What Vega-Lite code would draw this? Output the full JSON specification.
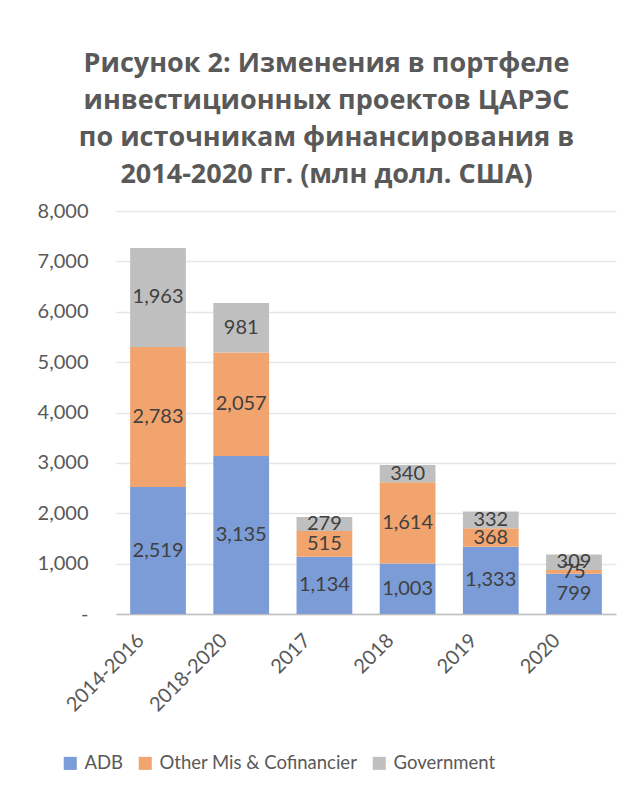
{
  "$schema": "https://vega.github.io/schema/vega-lite/v6.json",
  "width": 500,
  "height": 403,
  "padding": {"left": 37, "top": 50, "right": 18, "bottom": 5},
  "background": "white",
  "title": {
    "text": ["Рисунок 2: Изменения в портфеле", "инвестиционных проектов ЦАРЭС", "по источникам финансирования в", "2014-2020 гг. (млн долл. США)"],
    "font": "Open Sans",
    "fontSize": 27,
    "fontWeight": "bold",
    "color": "#595959",
    "lineHeight": 37,
    "anchor": "middle",
    "frame": "bounds",
    "offset": 12
  },
  "data": {
    "values": [
      {"period": "2014-2016", "source": "ADB", "ord": 1, "value": 2519},
      {"period": "2014-2016", "source": "Other Mis & Cofinancier", "ord": 2, "value": 2783},
      {"period": "2014-2016", "source": "Government", "ord": 3, "value": 1963},
      {"period": "2018-2020", "source": "ADB", "ord": 1, "value": 3135},
      {"period": "2018-2020", "source": "Other Mis & Cofinancier", "ord": 2, "value": 2057},
      {"period": "2018-2020", "source": "Government", "ord": 3, "value": 981},
      {"period": "2017", "source": "ADB", "ord": 1, "value": 1134},
      {"period": "2017", "source": "Other Mis & Cofinancier", "ord": 2, "value": 515},
      {"period": "2017", "source": "Government", "ord": 3, "value": 279},
      {"period": "2018", "source": "ADB", "ord": 1, "value": 1003},
      {"period": "2018", "source": "Other Mis & Cofinancier", "ord": 2, "value": 1614},
      {"period": "2018", "source": "Government", "ord": 3, "value": 340},
      {"period": "2019", "source": "ADB", "ord": 1, "value": 1333},
      {"period": "2019", "source": "Other Mis & Cofinancier", "ord": 2, "value": 368},
      {"period": "2019", "source": "Government", "ord": 3, "value": 332},
      {"period": "2020", "source": "ADB", "ord": 1, "value": 799},
      {"period": "2020", "source": "Other Mis & Cofinancier", "ord": 2, "value": 75},
      {"period": "2020", "source": "Government", "ord": 3, "value": 309}
    ]
  },
  "encoding": {
    "x": {
      "field": "period",
      "type": "nominal",
      "sort": ["2014-2016", "2018-2020", "2017", "2018", "2019", "2020"],
      "scale": {"paddingInner": 0.33, "paddingOuter": 0.17},
      "axis": {
        "title": null,
        "labelAngle": -45,
        "labelFont": "Lato",
        "labelFontSize": 20,
        "labelColor": "#595959",
        "ticks": false,
        "labelPadding": 16,
        "labelOffset": -24,
        "domainColor": "#BFBFBF",
        "domainWidth": 1.5
      }
    },
    "y": {
      "field": "value",
      "type": "quantitative",
      "aggregate": "sum",
      "stack": "zero",
      "scale": {"domain": [0, 8000]},
      "axis": {
        "title": null,
        "values": [0, 1000, 2000, 3000, 4000, 5000, 6000, 7000, 8000],
        "labelExpr": "datum.value === 0 ? '-' : format(datum.value, ',')",
        "labelFont": "Lato",
        "labelFontSize": 20,
        "labelColor": "#595959",
        "ticks": false,
        "labelPadding": 28,
        "domain": false,
        "grid": true,
        "gridColor": "#E6E6E6",
        "gridWidth": 1.5
      }
    },
    "order": {"field": "ord", "type": "quantitative"}
  },
  "layer": [
    {
      "mark": {"type": "bar"},
      "encoding": {
        "color": {
          "field": "source",
          "type": "nominal",
          "sort": ["ADB", "Other Mis & Cofinancier", "Government"],
          "scale": {
            "domain": ["ADB", "Other Mis & Cofinancier", "Government"],
            "range": ["#7B9CD6", "#F2A46E", "#BFBFBF"]
          },
          "legend": {
            "title": null,
            "orient": "none",
            "legendX": -55,
            "legendY": 543,
            "direction": "horizontal",
            "symbolType": "square",
            "symbolSize": 170,
            "symbolStrokeWidth": 0,
            "labelFont": "Lato",
            "labelFontSize": 18.5,
            "labelColor": "#595959",
            "labelLimit": 400,
            "labelOffset": 5,
            "columnPadding": 12
          }
        }
      }
    },
    {
      "mark": {"type": "text", "font": "Lato", "fontSize": 20, "color": "#404040", "baseline": "middle"},
      "encoding": {
        "y": {
          "field": "value",
          "type": "quantitative",
          "aggregate": "sum",
          "stack": "zero",
          "bandPosition": 0.5
        },
        "text": {"field": "value", "type": "quantitative", "format": ","}
      }
    }
  ],
  "config": {"view": {"stroke": null}}
}
